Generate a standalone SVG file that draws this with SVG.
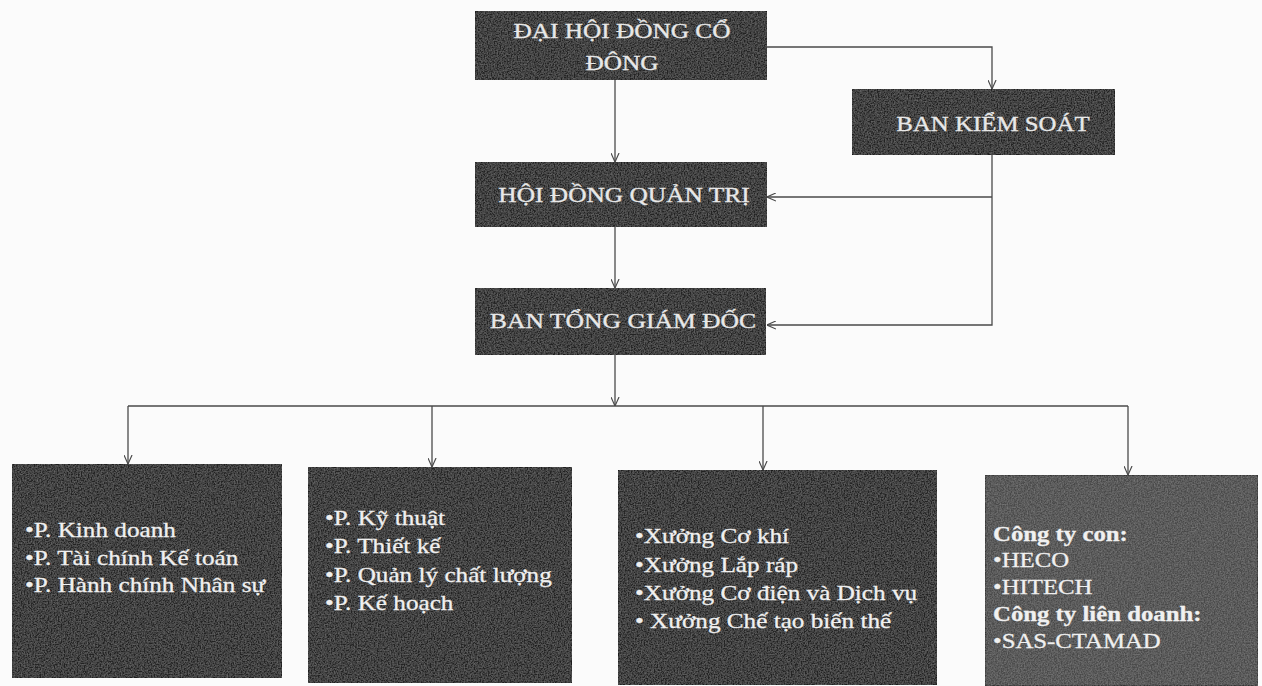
<svg xmlns="http://www.w3.org/2000/svg" width="1262" height="686" viewBox="0 0 1262 686">
<defs>
  <filter id="grain" x="0" y="0" width="1" height="1">
    <feTurbulence type="fractalNoise" baseFrequency="0.7" numOctaves="2" seed="4" result="n"/>
    <feColorMatrix in="n" type="matrix" values="0 0 0 0 1  0 0 0 0 1  0 0 0 0 1  0.22 0 0 0 -0.07" result="w"/>
    <feComposite in="w" in2="SourceGraphic" operator="atop"/>
  </filter>
  <marker id="arr" viewBox="0 0 10 10" refX="10" refY="5" markerWidth="9" markerHeight="9" orient="auto" markerUnits="userSpaceOnUse">
    <path d="M0,0.5 L10,5 L0,9.5" fill="none" stroke="#4a4a4a" stroke-width="1.3"/>
  </marker>
  <style>
    .box { fill: #232323; stroke: #161616; stroke-width: 1; filter: url(#grain); }
    .box.light { fill: #4a4a4a; }
    .hdr { font-family: "Liberation Serif", "Times New Roman", serif; font-size: 22px; fill: #e8e8e8; stroke: #e8e8e8; stroke-width: 0.35; text-anchor: middle; }
    .item { font-family: "Liberation Serif", "Times New Roman", serif; font-size: 21px; fill: #f0f0f0; stroke: #f0f0f0; stroke-width: 0.3; }
    .b { font-weight: bold; }
    .conn { fill: none; stroke: #4a4a4a; stroke-width: 1.3; }
  </style>
</defs>
<rect width="1262" height="686" fill="#fbfbfb"/>

<g id="connectors">
  <path class="conn" d="M767,47 H992 V89" marker-end="url(#arr)"/>
  <path class="conn" d="M615,80 V162" marker-end="url(#arr)"/>
  <path class="conn" d="M615,227 V288" marker-end="url(#arr)"/>
  <path class="conn" d="M992,155 V325 H767" marker-end="url(#arr)"/>
  <path class="conn" d="M992,197 H767" marker-end="url(#arr)"/>
  <path class="conn" d="M615,355 V406" marker-end="url(#arr)"/>
  <path class="conn" d="M128,406 H1128"/>
  <path class="conn" d="M128,406 V464" marker-end="url(#arr)"/>
  <path class="conn" d="M432,406 V467" marker-end="url(#arr)"/>
  <path class="conn" d="M763,406 V470" marker-end="url(#arr)"/>
  <path class="conn" d="M1128,406 V475" marker-end="url(#arr)"/>
</g>

<g id="dhdcd">
  <rect class="box" x="475" y="11" width="292" height="69"/>
  <g transform="translate(622,0) scale(1.15,1)">
    <text class="hdr" x="0" y="38">ĐẠI HỘI ĐỒNG CỔ</text>
    <text class="hdr" x="0" y="70">ĐÔNG</text>
  </g>
</g>

<g id="bks">
  <rect class="box" x="852" y="89" width="263" height="66"/>
  <text class="hdr" transform="translate(993,131) scale(1.13,1)" x="0" y="0">BAN KIỂM SOÁT</text>
</g>

<g id="hdqt">
  <rect class="box" x="475" y="162" width="292" height="65"/>
  <text class="hdr" transform="translate(624,202) scale(1.155,1)" x="0" y="0">HỘI ĐỒNG QUẢN TRỊ</text>
</g>

<g id="btgd">
  <rect class="box" x="475" y="288" width="291" height="67"/>
  <text class="hdr" transform="translate(623,328) scale(1.165,1)" x="0" y="0">BAN TỔNG GIÁM ĐỐC</text>
</g>

<g id="phong1">
  <rect class="box" x="12" y="464" width="270" height="214"/>
  <g transform="translate(25,0) scale(1.2,1)">
    <text class="item" x="0" y="537">•P. Kinh doanh</text>
    <text class="item" x="0" y="565">•P. Tài chính Kế toán</text>
    <text class="item" x="0" y="592">•P. Hành chính Nhân sự</text>
  </g>
</g>

<g id="phong2">
  <rect class="box" x="308" y="467" width="264" height="216"/>
  <g transform="translate(325,0) scale(1.2,1)">
    <text class="item" x="0" y="525">•P. Kỹ thuật</text>
    <text class="item" x="0" y="553">•P. Thiết kế</text>
    <text class="item" x="0" y="582">•P. Quản lý chất lượng</text>
    <text class="item" x="0" y="610">•P. Kế hoạch</text>
  </g>
</g>

<g id="xuong">
  <rect class="box" x="618" y="470" width="319" height="215"/>
  <g transform="translate(635,0) scale(1.2,1)">
    <text class="item" x="0" y="543">•Xưởng Cơ khí</text>
    <text class="item" x="0" y="572">•Xưởng Lắp ráp</text>
    <text class="item" x="0" y="600">•Xưởng Cơ điện và Dịch vụ</text>
    <text class="item" x="0" y="628">• Xưởng Chế tạo biến thế</text>
  </g>
</g>

<g id="congty">
  <rect class="box light" x="985" y="475" width="273" height="211"/>
  <g transform="translate(993,0) scale(1.18,1)">
    <text class="item b" x="0" y="541">Công ty con:</text>
    <text class="item" x="0" y="567">•HECO</text>
    <text class="item" x="0" y="594">•HITECH</text>
    <text class="item b" x="0" y="621">Công ty liên doanh:</text>
    <text class="item" x="0" y="648">•SAS-CTAMAD</text>
  </g>
</g>
</svg>
